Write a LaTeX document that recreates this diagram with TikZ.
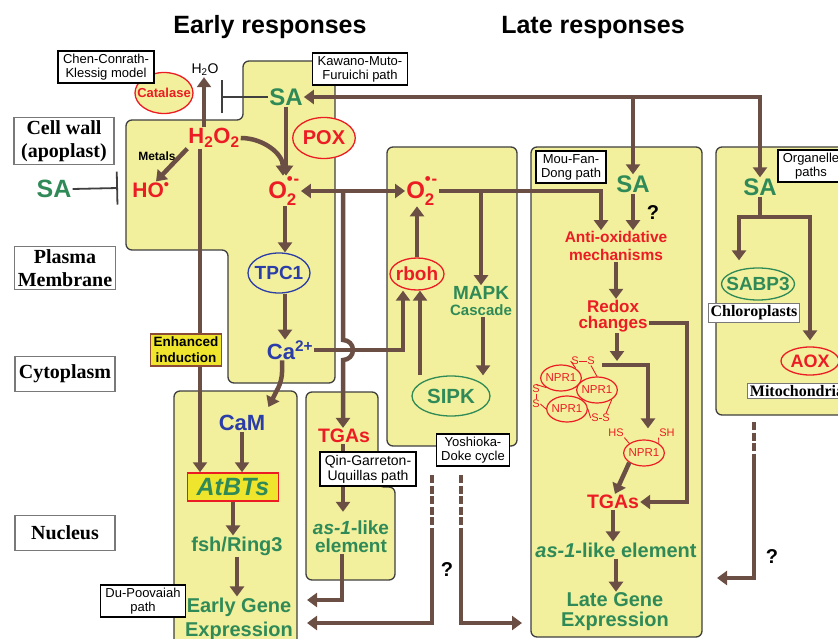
\documentclass[tikz,border=0pt]{standalone}
\usepackage{fontspec}
\setmainfont{Liberation Sans}
\newfontfamily\serifbold{Liberation Serif}
\definecolor{srYellow}{HTML}{F2F09C}
\definecolor{srEdge}{HTML}{3F3F3F}
\definecolor{srBrown}{HTML}{6B4F45}
\definecolor{srRed}{HTML}{EC1C24}
\definecolor{srGreen}{HTML}{2F8A58}
\definecolor{srBlue}{HTML}{2B3DA8}
\definecolor{srGold}{HTML}{EFE52C}
\definecolor{srGoldEdge}{HTML}{8C4B36}
\usetikzlibrary{shapes.geometric, arrows.meta, positioning, calc}
\newcommand{\fsz}[2]{\fontsize{#1}{#2}\selectfont}
\newcommand{\superox}{O\rlap{\raisebox{-0.2ex}{\textsubscript{2}}}\raisebox{0.4ex}{\textsuperscript{\textbullet\kern.05em-}}}

\begin{document}
\begin{tikzpicture}[x=1pt, y=-1pt,
  cellarea/.style={fill=srYellow, draw=srEdge, line width=1.3pt, rounded corners=6pt},
  zone/.style={draw=srEdge!70, fill=white, line width=1.2pt, align=center,
    font=\serifbold\bfseries\fsz{20}{23}, minimum width=100pt, minimum height=35pt, inner sep=3pt},
  organ/.style={draw=srEdge!70, fill=white, line width=1pt,
    font=\serifbold\bfseries\fsz{16}{16}, inner sep=2pt},
  pathtag/.style={draw=black, fill=white, line width=1.4pt, align=center,
    font=\fsz{13}{14}, inner xsep=5pt, inner ysep=3pt},
  heading/.style={font=\bfseries\fsz{25}{28}},
  gtxt/.style={text=srGreen, align=center, inner sep=1pt},
  rtxt/.style={text=srRed, align=center, inner sep=1pt},
  btxt/.style={text=srBlue, align=center, inner sep=1pt},
  oval/.style={ellipse, fill=srYellow, line width=1.3pt, inner ysep=0pt},
  npr/.style={oval, draw=srRed, text=srRed, font=\fsz{11.5}{11.5}, line width=1.2pt,
    minimum width=40pt, minimum height=26pt, inner xsep=-1pt},
  sulf/.style={text=srRed, font=\fsz{11}{11}, inner sep=0.5pt},
  arr/.style={draw=srBrown, line width=4.5pt, -{Triangle[length=10pt,width=14pt]}},
  arrs/.style={draw=srBrown, line width=4.5pt,
    {Triangle[length=10pt,width=14pt]}-{Triangle[length=10pt,width=14pt]}},
  brline/.style={draw=srBrown, line width=4.5pt},
  dlink/.style={brline, dash pattern=on 8pt off 2.5pt},
  inh/.style={draw=srEdge, line width=1.8pt, -{Bar[width=33pt]}},
  bond/.style={draw=srRed, line width=0.9pt}]

  \useasboundingbox (0,0) rectangle (838,639);

  % compartments
  \draw[cellarea] (243,61) -- (335,61) -- (335,383) -- (228,383) -- (228,250) -- (126,250) -- (126,120) -- (243,120) -- cycle;
  \draw[cellarea] (174,391) rectangle (297,660);
  \draw[cellarea] (306,392) -- (378,392) -- (378,487) -- (395,487) -- (395,580) -- (306,580) -- cycle;
  \draw[cellarea] (387,147) rectangle (517,446);
  \draw[cellarea] (531,147) rectangle (702,637);
  \draw[cellarea] (716,147) rectangle (860,415);

  \node[heading] (early) at (270,27) {Early responses};
  \node[heading] (late) at (593,27) {Late responses};

  \node[zone] (wall) at (64,141) {Cell wall\\(apoplast)};
  \node[zone] (pm) at (65,268) {Plasma\\Membrane};
  \node[zone] (cyto) at (65,374) {Cytoplasm};
  \node[zone] (nuc) at (65,533) {Nucleus};

  % early responses
  \node[oval, draw=srRed, minimum width=58pt, minimum height=41pt, inner xsep=-7pt,
    text=srRed, font=\bfseries\fsz{13}{13}] (cat) at (164,93) {Catalase};
  \node[pathtag] (chen) at (106,67) {Chen-Conrath-\\Klessig model};
  \node[font=\fsz{14}{14}, inner sep=1pt] (h2o) at (205,70) {H\textsubscript{2}O};
  \node[gtxt, font=\bfseries\fsz{24}{24}] (sae) at (286,97) {SA};
  \node[pathtag] (kawano) at (360,69) {Kawano-Muto-\\Furuichi path};
  \node[rtxt, font=\bfseries\fsz{22}{22}] (hoo) at (214,138) {H\textsubscript{2}O\textsubscript{2}};
  \node[oval, draw=srRed, minimum width=62pt, minimum height=41pt, inner xsep=1pt,
    text=srRed, font=\bfseries\fsz{20}{20}] (pox) at (324,138) {POX};
  \node[font=\bfseries\fsz{12}{12}, inner sep=1pt] (metals) at (157,156) {Metals};
  \node[rtxt, font=\bfseries\fsz{21}{21}] (ho) at (151,190) {HO\textsuperscript{\textbullet}};
  \node[gtxt, font=\bfseries\fsz{25}{25}] (saw) at (54,189) {SA};
  \node[rtxt, font=\bfseries\fsz{24}{24}] (oxe) at (284,191) {\superox};
  \node[oval, draw=srBlue, minimum width=62pt, minimum height=40pt, inner xsep=-2.5pt,
    text=srBlue, font=\bfseries\fsz{19}{19}] (tpc) at (279,273) {TPC1};
  \node[btxt, font=\bfseries\fsz{22}{22}] (ca) at (290,350) {Ca\textsuperscript{2+}};

  \node[btxt, font=\bfseries\fsz{22}{22}] (cam) at (242,423) {CaM};
  \node[draw=srRed, fill=srGold, line width=1.5pt, text=srGreen, font=\bfseries\itshape\fsz{25}{25},
    minimum width=91pt, minimum height=28pt, inner sep=1pt] (atbt) at (233,487) {AtBTs};
  \node[gtxt, font=\bfseries\fsz{20}{20}] (fsh) at (237,546) {fsh/Ring3};
  \node[gtxt, font=\bfseries\fsz{20}{24}] (ege) at (239,619) {Early Gene\\Expression};

  \node[rtxt, font=\bfseries\fsz{19.5}{19.5}] (tgae) at (344,436) {TGAs};
  \node[gtxt, font=\bfseries\fsz{19}{18}] (asoe) at (351,537) {\textit{as-1}-like\\element};

  % rboh / MAPK block
  \node[rtxt, font=\bfseries\fsz{24}{24}] (oxm) at (422,191) {\superox};
  \node[oval, draw=srRed, minimum width=54pt, minimum height=32pt, inner xsep=-3pt,
    text=srRed, font=\bfseries\fsz{19}{19}] (rboh) at (417,274) {rboh};
  \node[gtxt, font=\bfseries\fsz{19}{16}] (mapk) at (481,301) {MAPK\\{\fsz{15}{15}Cascade}};
  \node[oval, draw=srGreen, minimum width=78pt, minimum height=40pt, inner xsep=3.5pt,
    text=srGreen, font=\bfseries\fsz{20.5}{20.5}] (sipk) at (451,396) {SIPK};
  \node[pathtag] (yosh) at (473,450) {Yoshioka-\\Doke cycle};

  % late responses
  \node[pathtag] (mou) at (571,167) {Mou-Fan-\\Dong path};
  \node[gtxt, font=\bfseries\fsz{24}{24}] (sal) at (633,184) {SA};
  \node[font=\bfseries\fsz{20}{20}] (q1) at (653,213) {?};
  \node[rtxt, font=\bfseries\fsz{15.5}{18}] (anti) at (616,246) {Anti-oxidative\\mechanisms};
  \node[rtxt, font=\bfseries\fsz{17}{16}] (redox) at (613,316) {Redox\\changes};

  \node[npr] (npa) at (561,378) {NPR1};
  \node[npr] (npb) at (597,390) {NPR1};
  \node[npr] (npc) at (567,409) {NPR1};
  \node[npr] (nprr) at (644,453) {NPR1};
  \node[sulf] (st1) at (575,361) {S};
  \node[sulf] (st2) at (591,361) {S};
  \node[sulf] (sl1) at (536,389) {S};
  \node[sulf] (sl2) at (536,404) {S};
  \node[sulf] (sb1) at (595,418) {S};
  \node[sulf] (sb2) at (606,418) {S};
  \node[sulf] (hs) at (616,433) {HS};
  \node[sulf] (sh) at (667,433) {SH};
  \draw[bond] (npa.north east) -- (st1.west);
  \draw[bond] (st1.east) -- (st2.west);
  \draw[bond] (st2.south) -- (npb.north);
  \draw[bond] (npa.south west) -- (sl1.north);
  \draw[bond] (sl1.south) -- (sl2.north);
  \draw[bond] (sl2.east) -- (npc.west);
  \draw[bond] (npc.east) -- (sb1.west);
  \draw[bond] (sb1.east) -- (sb2.west);
  \draw[bond] (sb2.north) -- (npb.south east);
  \draw[bond] (hs.south east) -- (nprr.north west);
  \draw[bond] (sh.south west) -- (nprr.north east);

  \node[rtxt, font=\bfseries\fsz{19.5}{19.5}] (tgal) at (613,502) {TGAs};
  \node[gtxt, font=\bfseries\fsz{20}{20}] (asol) at (616,550) {\textit{as-1}-like element};
  \node[gtxt, font=\bfseries\fsz{20}{20}] (lge) at (615,612) {Late Gene\\Expression};

  % organelles
  \node[pathtag] (orgtag) at (811,166) {Organelle\\paths};
  \node[gtxt, font=\bfseries\fsz{24}{24}] (sao) at (760,187) {SA};
  \node[oval, draw=srGreen, minimum width=73pt, minimum height=32pt, inner xsep=-6pt,
    text=srGreen, font=\bfseries\fsz{19}{19}] (sabp) at (758,284) {SABP3};
  \node[organ] (chloro) at (754,313) {Chloroplasts};
  \node[oval, draw=srRed, minimum width=56pt, minimum height=28pt, inner xsep=1pt,
    text=srRed, font=\bfseries\fsz{18}{18}] (aox) at (810,361) {AOX};
  \node[organ] (mito) at (797,391) {Mitochondria};

  \coordinate (h2obar) at (221,97);
  \coordinate (wallbar) at (118,188);
  \coordinate (oxsplit) at (343,191);
  \coordinate (hop) at (343,340);
  \coordinate (clusterin) at (617,361);
  \coordinate (ssend) at (602,365);
  \coordinate (redoxbend) at (687,400);
  \coordinate (orgsplit) at (760,217);
  \coordinate (egein1) at (307,600);
  \coordinate (egein2) at (307,623);
  \coordinate (latein1) at (522,623);
  \coordinate (latein2) at (717,578);
  \coordinate (ydl) at (432,475);
  \coordinate (ydlb) at (432,536);
  \coordinate (ydr) at (461,475);
  \coordinate (ydrb) at (461,536);
  \coordinate (orgd) at (754,422);
  \coordinate (orgdb) at (754,462);

  % SA supply
  \draw[arrs] (sao.north) |- (sae.east);
  \draw[arr] (sal.north |- sae.east) -- (sal.north);

  % early chain
  \draw[inh] (sae.west) -- (h2obar);
  \draw[inh] (saw.east) -- (wallbar);
  \draw[arr] ([xshift=-10pt]hoo.north) -- ([xshift=-10pt]hoo.north |- h2o.south);
  \draw[arr] (hoo.south west) -- ([xshift=5pt]ho.north);
  \draw[arr] (hoo.east) to[out=0, in=90] ([xshift=-1pt]oxe.north);
  \draw[arr] (sae.south) -- (sae.south |- oxe.north);
  \draw[arr] ([xshift=1pt]oxe.south) -- ([xshift=1pt]oxe.south |- tpc.north);
  \draw[arr] ([xshift=6pt]tpc.south) -- ([xshift=6pt]tpc.south |- ca.north);
  \draw[arr, rounded corners=8pt] ([xshift=-8pt]ca.south) -- ++(0,20) -- ([xshift=2pt,yshift=7pt]cam.north east);
  \draw[arr] ([xshift=-14pt]hoo.south) -- ([xshift=-14pt]hoo.south |- atbt.north);
  \draw[arr] (cam.south) -- (cam.south |- atbt.north);
  \draw[arr] (atbt.south) -- (atbt.south |- fsh.north);
  \draw[arr] (fsh.south) -- (fsh.south |- ege.north);

  % superoxide exchange
  \draw[arrs] (oxe.east) -- (oxm.west);
  \draw[arr] (oxsplit) -- (hop) arc[start angle=90, end angle=-90, radius=10pt] -- (tgae.north -| oxsplit);
  \draw[arr, shorten >=8pt] (tgae.south -| oxsplit) -- (asoe.north -| oxsplit);
  \draw[arr] (ca.east) -| ([xshift=-14pt]rboh.south);
  \draw[arr] ([xshift=3pt]rboh.south |- sipk.north) -- ([xshift=3pt]rboh.south);
  \draw[arr] (rboh.north) -- (rboh.north |- oxm.south);
  \draw[arr] (oxm.east) -| ([xshift=-15pt]anti.north);
  \draw[arr] (mapk.north |- oxm.east) -- (mapk.north);
  \draw[arr] ([xshift=2pt]mapk.south) -- ([xshift=2pt]mapk.south |- sipk.north);

  % late chain
  \draw[arr] (sal.south) -- (sal.south |- anti.north);
  \draw[arr] (anti.south) -- (anti.south |- redox.north);
  \draw[arr] (redox.south -| clusterin) -- (clusterin);
  \draw[arr] (ssend) -| ([xshift=4pt,yshift=11pt]nprr.north);
  \draw[arr] (nprr.south west) -- ([xshift=2pt]tgal.north);
  \draw[arr] ([yshift=-7pt]redox.east) -| (redoxbend) |- (tgal.east);
  \draw[arr] (tgal.south) -- (tgal.south |- asol.north);
  \draw[arr] (asol.south) -- (asol.south |- lge.north);

  % organelle paths
  \draw[brline] (sao.south) -- (orgsplit);
  \draw[arr] (orgsplit) -| ([xshift=-19pt,yshift=7pt]sabp.north);
  \draw[arr] (orgsplit) -| ([yshift=6pt]aox.north);

  % back to the nucleus
  \draw[arr] ([xshift=-9pt]asoe.south) |- (egein1);
  \draw[dlink] (ydl) -- (ydlb);
  \draw[arr] (ydlb) |- (egein2);
  \draw[dlink] (ydr) -- (ydrb);
  \draw[arr] (ydrb) |- (latein1);
  \draw[dlink] (orgd) -- (orgdb);
  \draw[arr] (orgdb) |- (latein2);
  \node[font=\bfseries\fsz{20}{20}] (q2) at (447,570) {?};
  \node[font=\bfseries\fsz{20}{20}] (q3) at (772,557) {?};

  \node[draw=srGoldEdge, fill=srGold, line width=1.5pt, font=\bfseries\fsz{13.5}{16},
    align=center, inner sep=3pt] (enh) at (186,350) {Enhanced\\induction};
  \node[pathtag, font=\fsz{14}{15}] (qin) at (368,469) {Qin-Garreton-\\Uquillas path};
  \node[pathtag] (du) at (143,601) {Du-Poovaiah\\path};
\end{tikzpicture}
\end{document}
